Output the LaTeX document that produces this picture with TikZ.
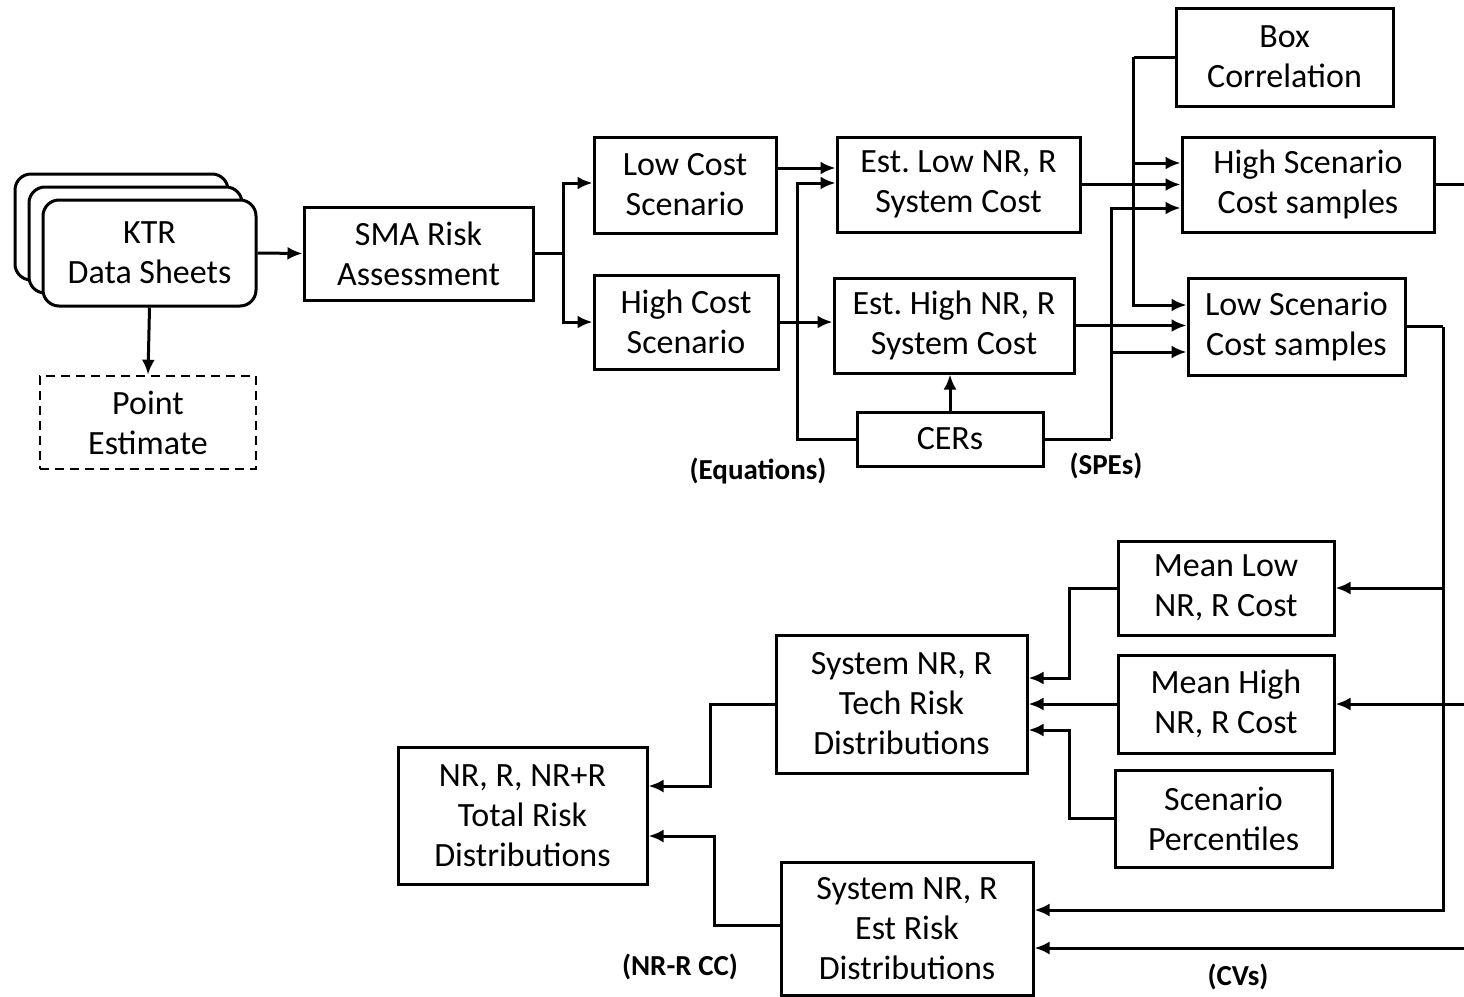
\documentclass[tikz,border=0pt]{standalone}
\usepackage{fontspec}
\setmainfont{Carlito}
\usetikzlibrary{arrows.meta,calc}
\frenchspacing

\begin{document}
\begin{tikzpicture}
[x=1pt,y=-1pt,>={Latex[length=15pt,width=13pt]},
box/.style={draw,line width=3pt,align=center,inner sep=0pt,font=\fontsize{34}{40}\selectfont},
ktrbox/.style={box,rounded corners=16pt,fill=white,minimum width=213pt,minimum height=106pt},
dashbox/.style={box,line width=2.5pt,dash pattern=on 9pt off 6pt},
lbl/.style={font=\fontsize{29}{32}\selectfont\bfseries},
conn/.style={line width=3pt},]

\useasboundingbox (0,0) rectangle (1464,996);

%Data sheets
\node (ktrC) at (121.5,227)[ktrbox] {};
\node (ktrB) at (135.5,240)[ktrbox] {};
\node (ktr) at (149.5,253)[ktrbox] {KTR\\Data Sheets};
\node (point) at (148,422.5)[dashbox,minimum width=216pt,minimum height=93pt] {Point\\Estimate};

%Boxes
\node (sma) at (418.5,253.5)[box,minimum width=229pt,minimum height=93pt] {SMA Risk\\Assessment};
\node (lowcost) at (685,185)[box,minimum width=182pt,minimum height=96pt] {Low Cost\\Scenario};
\node (highcost) at (686,322)[box,minimum width=184pt,minimum height=94pt] {High Cost\\Scenario};
\node (estlow) at (958.5,184.5)[box,minimum width=243pt,minimum height=95pt] {Est. Low NR, R\\System Cost};
\node (esthigh) at (954,325.5)[box,minimum width=240pt,minimum height=95pt] {Est. High NR, R\\System Cost};
\node (cers) at (950,439)[box,minimum width=186pt,minimum height=54pt] {CERs};
\node (boxcorr) at (1284.5,57)[box,minimum width=217pt,minimum height=98pt] {Box\\Correlation};
\node (highscen) at (1308,184.5)[box,minimum width=252pt,minimum height=95pt] {High Scenario\\Cost samples};
\node (lowscen) at (1296.5,326.5)[box,minimum width=217pt,minimum height=97pt] {Low Scenario\\Cost samples};
\node (meanlow) at (1226,588)[box,minimum width=216pt,minimum height=94pt] {Mean Low\\NR, R Cost};
\node (meanhigh) at (1226,704)[box,minimum width=216pt,minimum height=98pt] {Mean High\\NR, R Cost};
\node (scenpct) at (1223.5,818.5)[box,minimum width=217pt,minimum height=97pt] {Scenario\\Percentiles};
\node (tech) at (901.5,704)[box,minimum width=251pt,minimum height=138pt] {System NR, R\\Tech Risk\\Distributions};
\node (total) at (522.5,815.5)[box,minimum width=249pt,minimum height=137pt] {NR, R, NR+R\\Total Risk\\Distributions};
\node (estrisk) at (907,928.5)[box,minimum width=252pt,minimum height=133pt] {System NR, R\\Est Risk\\Distributions};

%Labels
\node (eqlbl) at (758,471)[lbl] {(Equations)};
\node (spelbl) at (1106,466)[lbl] {(SPEs)};
\node (cclbl) at (680,967)[lbl] {(NR-R CC)};
\node (cvlbl) at (1238,977)[lbl] {(CVs)};

%Junctions and loose ends
\coordinate (smaj) at (563,253.5);
\coordinate (spej) at (1111,439);
\coordinate (corrj) at ([xshift=-41pt]boxcorr.west);
\coordinate (rj) at (1443,326.5);
\coordinate (outH) at (1464,184.5);
\coordinate (inMH) at (1464,704);
\coordinate (inCV) at (1464,948);

%Drawing lines
\draw[conn,->] (ktr.east) -- (sma.west);
\draw[conn,->] (ktr.south) -- (point.north);
\draw[conn] (sma.east) -- (smaj);
\draw[conn,->] (smaj) |- ([yshift=2pt]lowcost.west);
\draw[conn,->] (smaj) |- (highcost.west);
\draw[conn,->] ([yshift=17pt]lowcost.east) -- ([yshift=17pt]lowcost.east -| estlow.west);
\draw[conn,->] (highcost.east) -- (highcost.east -| esthigh.west);
\draw[conn,->] (cers.north) -- (cers.north |- esthigh.south);
\draw[conn,->] (cers.west) -- ++(-58,0) |- ([yshift=1.5pt]estlow.west);
\draw[conn] (cers.east) -- (spej);
\draw[conn,->] (spej) |- ([yshift=-23.5pt]highscen.west);
\draw[conn,->] (spej) |- ([yshift=-25.5pt]lowscen.west);
\draw[conn,->] (estlow.east) -- (estlow.east -| highscen.west);
\draw[conn,->] (esthigh.east) -- (esthigh.east -| lowscen.west);
\draw[conn] (boxcorr.west) -- (corrj);
\draw[conn,->] (corrj) |- ([yshift=21.5pt]highscen.west);
\draw[conn,->] (corrj) |- ([yshift=21.5pt]lowscen.west);
\draw[conn] (highscen.east) -- (outH);
\draw[conn] (lowscen.east) -- (rj);
\draw[conn,->] (rj) |- ([yshift=18.5pt]estrisk.east);
\draw[conn,->] (rj |- meanlow.east) -- (meanlow.east);
\draw[conn,->] (inMH) -- (meanhigh.east);
\draw[conn,->] (inCV) -- (inCV -| estrisk.east);
\draw[conn,->] (meanlow.west) -- ++(-47,0) |- ([yshift=26pt]tech.east);
\draw[conn,->] (meanhigh.west) -- (tech.east);
\draw[conn,->] (scenpct.west) -- ++(-44,0) |- ([yshift=-26pt]tech.east);
\draw[conn,->] (tech.west) -- ++(-64,0) |- ([yshift=29.5pt]total.east);
\draw[conn,->] ([yshift=3.5pt]estrisk.west) -- ++(-65,0) |- ([yshift=-20.5pt]total.east);

\end{tikzpicture}
\end{document}
